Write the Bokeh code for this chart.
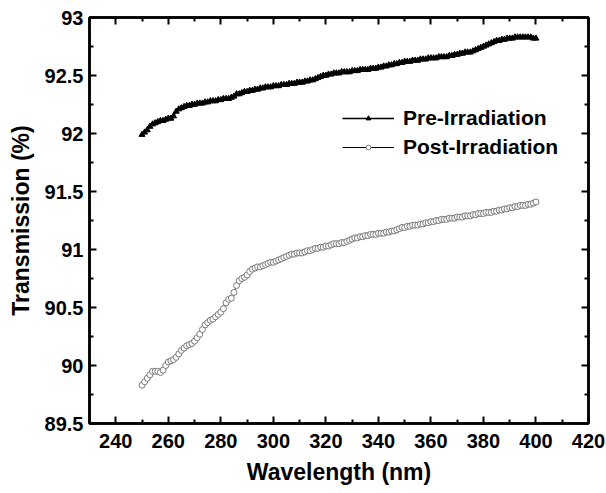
from bokeh.plotting import figure
from bokeh.models import Range1d, FixedTicker, LinearAxis, Legend, LegendItem
from bokeh.embed import file_html
from bokeh.resources import INLINE

wavelength = list(range(250, 401))

pre_irradiation = [
    91.99, 92.01, 92.03, 92.06, 92.08, 92.09, 92.10, 92.11, 92.11, 92.12,
    92.13, 92.13, 92.15, 92.19, 92.21, 92.22, 92.23, 92.24, 92.24, 92.25,
    92.25, 92.26, 92.26, 92.26, 92.27, 92.27, 92.28, 92.28, 92.28, 92.29,
    92.29, 92.30, 92.30, 92.30, 92.31, 92.32, 92.34, 92.34, 92.35, 92.36,
    92.36, 92.37, 92.37, 92.38, 92.38, 92.39, 92.39, 92.40, 92.40, 92.40,
    92.41, 92.41, 92.41, 92.42, 92.42, 92.42, 92.43, 92.43, 92.43, 92.44,
    92.44, 92.44, 92.45, 92.45, 92.46, 92.46, 92.47, 92.48, 92.49, 92.50,
    92.50, 92.51, 92.51, 92.52, 92.52, 92.52, 92.53, 92.53, 92.53, 92.53,
    92.54, 92.54, 92.54, 92.55, 92.55, 92.55, 92.55, 92.56, 92.56, 92.56,
    92.57, 92.57, 92.58, 92.58, 92.59, 92.59, 92.60, 92.60, 92.61, 92.61,
    92.62, 92.62, 92.62, 92.63, 92.63, 92.63, 92.64, 92.64, 92.64, 92.65,
    92.65, 92.65, 92.65, 92.66, 92.66, 92.66, 92.66, 92.67, 92.67, 92.68,
    92.68, 92.69, 92.69, 92.70, 92.70, 92.70, 92.71, 92.72, 92.73, 92.74,
    92.75, 92.76, 92.77, 92.78, 92.79, 92.80, 92.80, 92.81, 92.81, 92.82,
    92.82, 92.82, 92.83, 92.83, 92.83, 92.83, 92.83, 92.83, 92.83, 92.82,
    92.82,
]

post_irradiation = [
    89.83, 89.86, 89.89, 89.92, 89.95, 89.95, 89.95, 89.94, 89.96, 90.00,
    90.03, 90.04, 90.05, 90.07, 90.10, 90.13, 90.15, 90.17, 90.18, 90.19,
    90.21, 90.24, 90.27, 90.31, 90.35, 90.37, 90.39, 90.40, 90.42, 90.44,
    90.46, 90.49, 90.54, 90.57, 90.58, 90.63, 90.69, 90.73, 90.75, 90.76,
    90.78, 90.81, 90.83, 90.84, 90.85, 90.85, 90.86, 90.87, 90.88, 90.89,
    90.89, 90.90, 90.91, 90.92, 90.93, 90.94, 90.95, 90.96, 90.96, 90.97,
    90.97, 90.97, 90.98, 90.99, 90.99, 91.00, 91.01, 91.01, 91.02, 91.02,
    91.03, 91.03, 91.04, 91.05, 91.05, 91.05, 91.06, 91.06, 91.07, 91.08,
    91.09, 91.10, 91.10, 91.11, 91.11, 91.12, 91.12, 91.13, 91.13, 91.13,
    91.14, 91.14, 91.14, 91.15, 91.15, 91.16, 91.16, 91.17, 91.18, 91.19,
    91.19, 91.20, 91.20, 91.21, 91.21, 91.21, 91.22, 91.22, 91.23, 91.23,
    91.24, 91.24, 91.25, 91.25, 91.26, 91.26, 91.26, 91.27, 91.27, 91.27,
    91.28, 91.28, 91.28, 91.29, 91.29, 91.29, 91.30, 91.30, 91.31, 91.31,
    91.31, 91.32, 91.32, 91.32, 91.33, 91.33, 91.34, 91.34, 91.35, 91.35,
    91.36, 91.36, 91.37, 91.37, 91.38, 91.38, 91.38, 91.39, 91.39, 91.40,
    91.41,
]

x_ticks = [240, 260, 280, 300, 320, 340, 360, 380, 400, 420]
x_minor = [230, 250, 270, 290, 310, 330, 350, 370, 390, 410]
y_ticks = [89.5, 90, 90.5, 91, 91.5, 92, 92.5, 93]
y_tick_labels = ["89.5", "90", "90.5", "91", "91.5", "92", "92.5", "93"]
y_minor = [89.75, 90.25, 90.75, 91.25, 91.75, 92.25, 92.75]

FONT = "Liberation Sans"

p = figure(width=606, height=493, output_backend="svg", toolbar_location=None,
           x_range=Range1d(230, 420), y_range=Range1d(89.5, 93),
           min_border_left=89, min_border_right=18, min_border_top=17,
           min_border_bottom=70, background_fill_color="white",
           border_fill_color="white")
p.grid.visible = False
p.outline_line_color = "black"
p.outline_line_width = 2.5

xt = FixedTicker(ticks=x_ticks, minor_ticks=x_minor)
yt = FixedTicker(ticks=y_ticks, minor_ticks=y_minor)


def style_axis(ax, ticker, show_labels):
    ax.ticker = ticker
    ax.axis_line_width = 2.5
    ax.axis_line_color = "black"
    ax.major_tick_in = 7
    ax.major_tick_out = 0
    ax.minor_tick_in = 4
    ax.minor_tick_out = 0
    ax.major_tick_line_width = 2
    ax.minor_tick_line_width = 2
    ax.major_label_text_font = FONT
    ax.major_label_text_font_style = "bold"
    ax.major_label_text_font_size = "20px" if show_labels else "0px"
    ax.major_label_text_color = "black"
    ax.axis_label_text_font = FONT
    ax.axis_label_text_font_style = "bold"
    ax.axis_label_text_font_size = "23px"
    ax.axis_label_text_color = "black"


style_axis(p.xaxis[0], xt, True)
style_axis(p.yaxis[0], yt, True)
p.xaxis[0].axis_label = "Wavelength (nm)"
p.yaxis[0].axis_label = "Transmission (%)"
p.xaxis[0].major_label_standoff = 10
p.xaxis[0].axis_label_standoff = 8
p.yaxis[0].major_label_standoff = 6
p.yaxis[0].axis_label_standoff = 8
p.yaxis[0].major_label_overrides = {t: s for t, s in zip(y_ticks, y_tick_labels)}

top = LinearAxis()
style_axis(top, xt, False)
top.major_label_standoff = 0
p.add_layout(top, "above")
right = LinearAxis()
style_axis(right, yt, False)
right.major_label_standoff = 0
p.add_layout(right, "right")

pre_line = p.line(wavelength, pre_irradiation, line_color="black", line_width=1.5)
pre_pts = p.scatter(wavelength, pre_irradiation, marker="triangle", size=6,
                    fill_color="black", line_color="black")
post_line = p.line(wavelength, post_irradiation, line_color="black", line_width=1)
post_pts = p.scatter(wavelength, post_irradiation, marker="circle", size=6,
                     fill_color="white", line_color="#7a7a7a", line_width=1)

legend = Legend(items=[
    LegendItem(label="Pre-Irradiation", renderers=[pre_line, pre_pts]),
    LegendItem(label="Post-Irradiation", renderers=[post_line, post_pts]),
], location=(253, 262))
legend.border_line_color = None
legend.background_fill_alpha = 0
legend.padding = 0
legend.margin = 0
legend.spacing = 0
legend.glyph_width = 52
legend.glyph_height = 12
legend.label_height = 29
legend.label_standoff = 9
legend.label_text_font = FONT
legend.label_text_font_style = "bold"
legend.label_text_font_size = "21px"
legend.label_text_color = "black"
p.add_layout(legend, "center")

open("out.html", "w").write(file_html(p, INLINE))
